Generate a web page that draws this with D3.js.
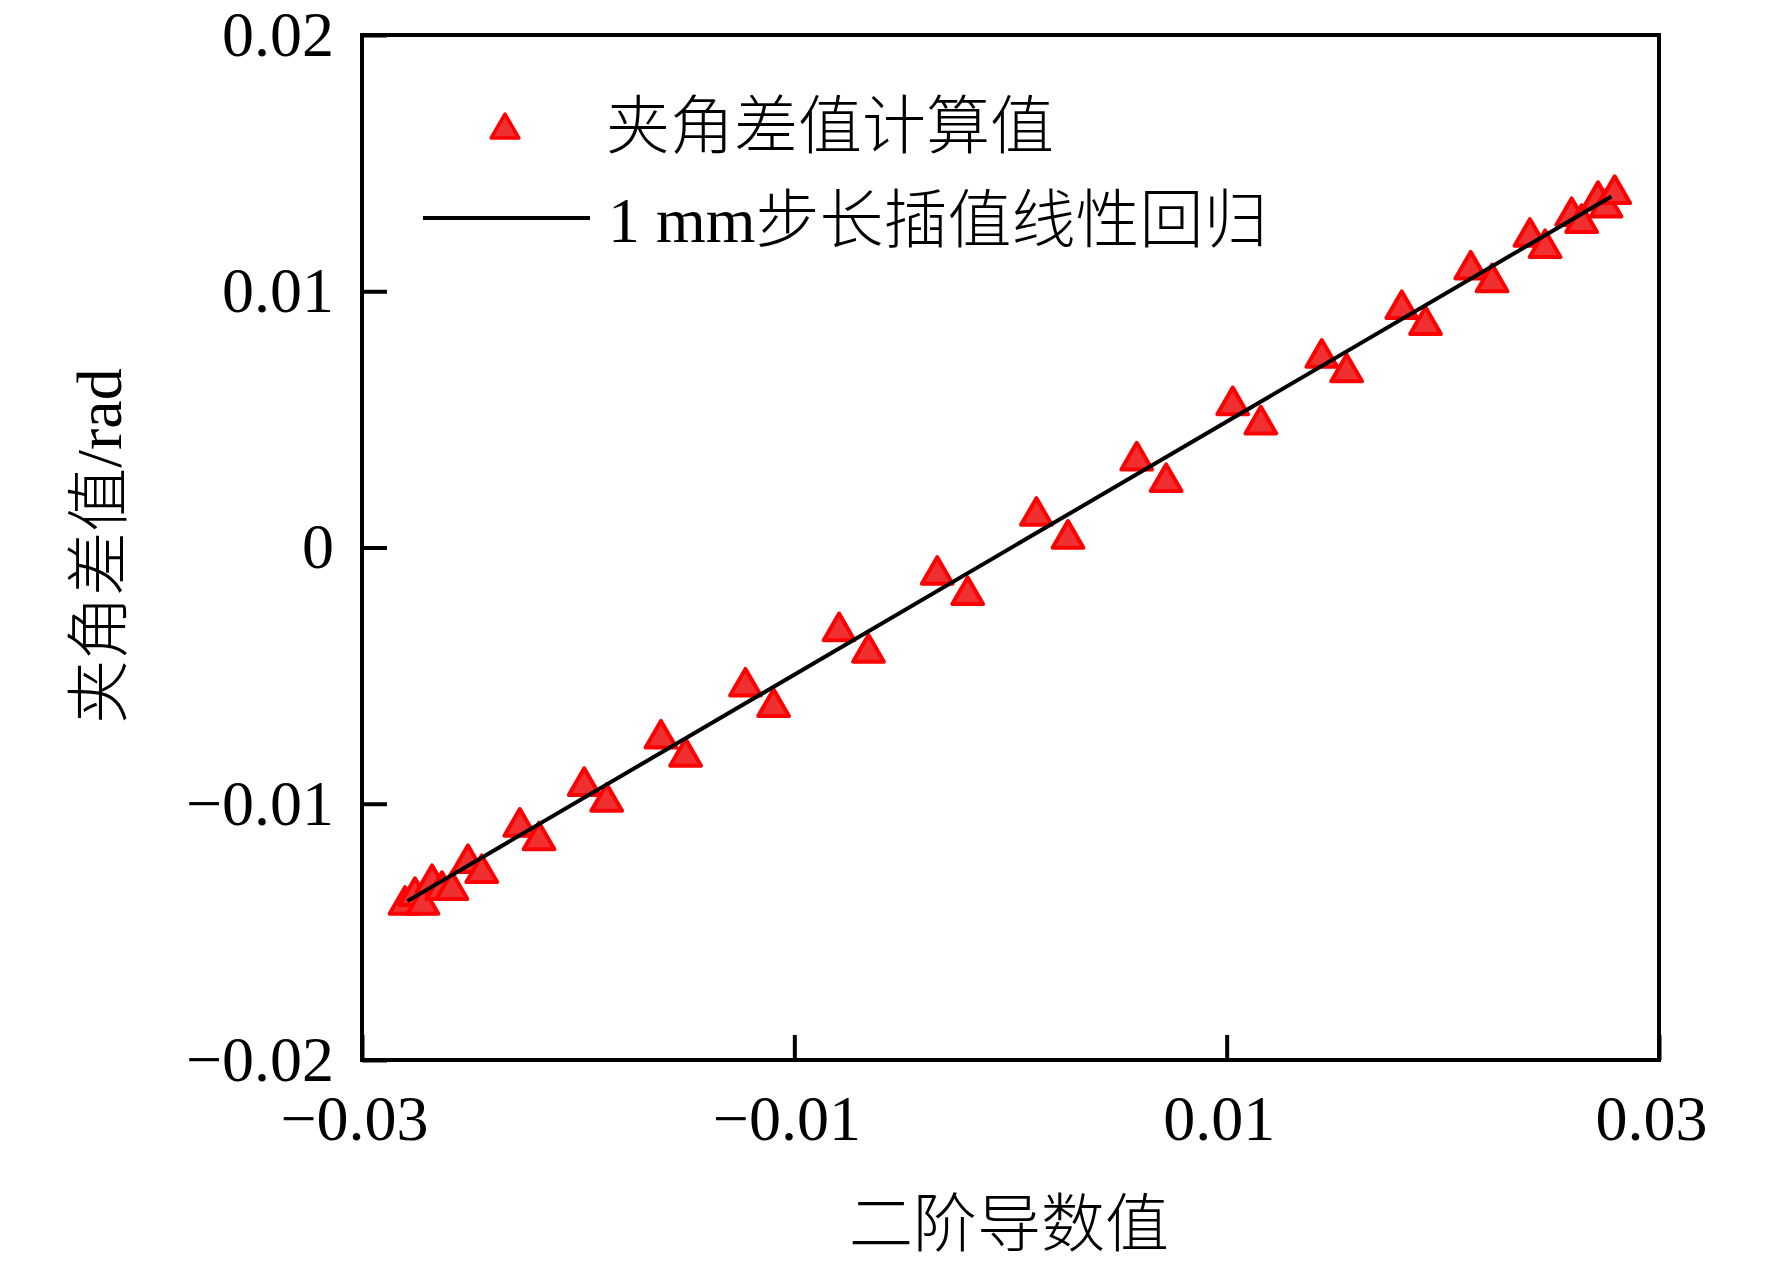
<!DOCTYPE html>
<html>
<head>
<meta charset="utf-8">
<script src="https://cdn.jsdelivr.net/npm/d3@7"></script>
<style>
  html, body { margin: 0; padding: 0; background: #fff; }
  svg text { font-family: "Liberation Serif", "Noto Sans CJK SC", serif; fill: #000; }
  .cjk { font-weight: 300; }
</style>
</head>
<body>
<svg id="chart" width="1772" height="1266"></svg>
<script>
// ---- data ----
const xValues = [-0.02801, -0.02755, -0.02718, -0.02676, -0.02630, -0.02584, -0.02510, -0.02446,
  -0.02270, -0.02181, -0.01972, -0.01868, -0.01617, -0.01503, -0.01226, -0.01096,
  -0.00793, -0.00657, -0.00339, -0.00198, 0.00120, 0.00266, 0.00584, 0.00720,
  0.01028, 0.01158, 0.01440, 0.01555, 0.01810, 0.01920, 0.02129, 0.02228,
  0.02403, 0.02473, 0.02596, 0.02642, 0.02718, 0.02755, 0.02795];
const yValues = [-0.01395, -0.01360, -0.01395, -0.01310, -0.01337, -0.01337, -0.01232, -0.01271,
  -0.01090, -0.01143, -0.00931, -0.00993, -0.00746, -0.00817, -0.00543, -0.00623,
  -0.00327, -0.00411, -0.00107, -0.00186, 0.00123, 0.00034, 0.00339, 0.00255,
  0.00555, 0.00480, 0.00740, 0.00683, 0.00930, 0.00868, 0.01084, 0.01035,
  0.01212, 0.01168, 0.01293, 0.01266, 0.01356, 0.01326, 0.01379];
const fitX = [-0.0279, 0.0278];
const fitY = [-0.0138, 0.0137];
const xTicks = [-0.03, -0.01, 0.01, 0.03];
const yTicks = [-0.02, -0.01, 0, 0.01, 0.02];
const xDomain = [-0.03, 0.03];
const yDomain = [-0.02, 0.02];
const legendLabels = ["夹角差值计算值", "1 mm步长插值线性回归"];
const xTitle = "二阶导数值";
const yTitle = "夹角差值/rad";

// ---- layout ----
const W = 1772, H = 1266;
const m = { left: 362, top: 35, right: 113, bottom: 206 };
const iw = W - m.left - m.right, ih = H - m.top - m.bottom;
const FS = 64;

const svg = d3.select("#chart");
const g = svg.append("g").attr("transform", `translate(${m.left},${m.top})`);

const x = d3.scaleLinear().domain(xDomain).range([0, iw]);
const y = d3.scaleLinear().domain(yDomain).range([ih, 0]);

const fmt = v => v === 0 ? "0" : d3.format(".2f")(v);

// axes
const xAxis = g.append("g").attr("transform", `translate(0,${ih})`)
  .call(d3.axisBottom(x).tickValues(xTicks).tickFormat(fmt).tickSizeInner(-25).tickSizeOuter(0).tickPadding(35));
const yAxis = g.append("g")
  .call(d3.axisLeft(y).tickValues(yTicks).tickFormat(fmt).tickSizeInner(-25).tickSizeOuter(0).tickPadding(28));
[xAxis, yAxis].forEach(a => {
  a.select(".domain").remove();
  a.selectAll(".tick line").attr("stroke", "#000").attr("stroke-width", 4);
  a.selectAll(".tick text").attr("font-size", FS).attr("font-family", "Liberation Serif");
});
xAxis.selectAll(".tick text").attr("dx", -8);

// frame
g.append("rect").attr("x", 0).attr("y", 0).attr("width", iw).attr("height", ih)
  .attr("fill", "none").attr("stroke", "#000").attr("stroke-width", 4);

// points
const pts = xValues.map((v, i) => [v, yValues[i]]);
const tri = d3.symbol().type(d3.symbolTriangle).size(410);
g.append("g").selectAll("path").data(pts).join("path")
  .attr("d", tri)
  .attr("transform", d => `translate(${x(d[0])},${y(d[1])})`)
  .attr("fill", "#f03030").attr("stroke", "#ff0000").attr("stroke-width", 4)
  .attr("stroke-linejoin", "round");

// regression line
const line = d3.line().x(d => x(d[0])).y(d => y(d[1]));
g.append("path").datum(fitX.map((v, i) => [v, fitY[i]]))
  .attr("d", line).attr("fill", "none").attr("stroke", "#000").attr("stroke-width", 4);

// legend
svg.append("path").attr("d", d3.symbol().type(d3.symbolTriangle).size(330)).attr("transform", "translate(505,130)")
  .attr("fill", "#f03030").attr("stroke", "#ff0000").attr("stroke-width", 3.5).attr("stroke-linejoin", "round");
svg.append("text").attr("class", "cjk").attr("x", 606).attr("y", 148).attr("font-size", FS).text(legendLabels[0]);
svg.append("line").attr("x1", 423).attr("x2", 590).attr("y1", 218).attr("y2", 218)
  .attr("stroke", "#000").attr("stroke-width", 4);
svg.append("text").attr("class", "cjk").attr("x", 608).attr("y", 242).attr("font-size", FS).text(legendLabels[1]);

// axis titles
svg.append("text").attr("class", "cjk").attr("x", 1009).attr("y", 1246).attr("text-anchor", "middle")
  .attr("font-size", FS).text(xTitle);
svg.append("text").attr("class", "cjk").attr("transform", "translate(121,546) rotate(-90)").attr("text-anchor", "middle")
  .attr("font-size", FS).text(yTitle);
</script>
</body>
</html>
